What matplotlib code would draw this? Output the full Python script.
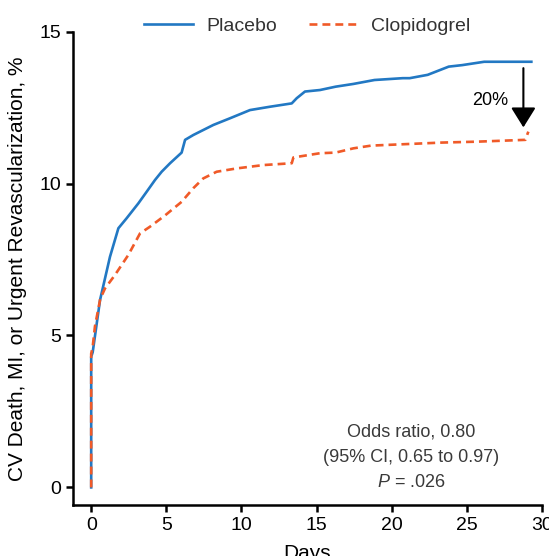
import matplotlib
matplotlib.use("Agg")
from matplotlib import pyplot as plt

plt.rcParams['font.family'] = ['Liberation Sans', 'DejaVu Sans']
plt.rcParams['mathtext.fontset'] = 'custom'
plt.rcParams['mathtext.it'] = 'Liberation Sans:italic'
plt.rcParams['mathtext.rm'] = 'Liberation Sans'

# curves (days, cumulative %)
placebo_days = [0, 0, 0.1, 0.59, 1.25, 1.81, 2.36, 3.14, 3.69, 4.25, 4.69, 5.25,
                6.02, 6.25, 6.8, 8.13, 9.24, 10.57, 11.9, 13.35, 13.68, 14.23,
                15.23, 16.27, 17.45, 18.86, 20.74, 21.2, 22.4, 23.8, 24.7,
                26.16, 29.3]
placebo_vals = [0, 4.3, 4.45, 6.17, 7.59, 8.53, 8.86, 9.35, 9.73, 10.12, 10.39,
                10.67, 11.02, 11.44, 11.6, 11.93, 12.15, 12.42, 12.53, 12.64,
                12.81, 13.03, 13.08, 13.19, 13.28, 13.41, 13.47, 13.47, 13.58,
                13.85, 13.9, 14.01, 14.01]

clop_days = [0, 0, 0.1, 0.25, 0.6, 0.92, 1.58, 2.47, 3.25, 3.91, 4.91, 6.02, 6.8,
             7.46, 8.35, 9.69, 11.46, 13.35, 13.46, 15.23, 16.27, 17.45, 18.63,
             20.98, 23.33, 25.68, 28.9, 29.1]
clop_vals = [0, 4.4, 4.63, 5.3, 6.2, 6.55, 6.99, 7.65, 8.36, 8.58, 8.95, 9.4, 9.85,
             10.17, 10.39, 10.5, 10.61, 10.67, 10.86, 11.0, 11.02, 11.16, 11.25,
             11.3, 11.35, 11.38, 11.44, 11.71]

x_ticks = [0, 5, 10, 15, 20, 25, 30]
y_ticks = [0, 5, 10, 15]

stats_lines = ["Odds ratio, 0.80", "(95% CI, 0.65 to 0.97)", "$P$ = .026"]
reduction_label = "20%"

fig = plt.figure(figsize=(5.49, 5.56), dpi=100)
ax = fig.add_axes([0.133, 0.0917, 0.854, 0.8513])

ax.plot(placebo_days, placebo_vals, color='#2278c3', lw=1.9, label='Placebo')
ax.plot(clop_days, clop_vals, color='#f05a28', lw=1.9, ls=(0, (3, 1.9)),
        label='Clopidogrel')

ax.set_xlim(-1.21, 30)
ax.set_ylim(-0.58, 15)
ax.set_xticks(x_ticks)
ax.set_yticks(y_ticks)
for s in ['top', 'right']:
    ax.spines[s].set_visible(False)
for s in ['left', 'bottom']:
    ax.spines[s].set_linewidth(1.8)
ax.tick_params(width=1.8, length=5, labelsize=14, direction='out')

ax.set_xlabel('Days', fontsize=15, labelpad=7)
ax.set_ylabel('CV Death, MI, or Urgent Revascularization, %', fontsize=15, labelpad=9)

leg = ax.legend(loc='lower center', bbox_to_anchor=(0.5, 0.976), ncol=2,
                frameon=False, fontsize=14, handlelength=2.5, handletextpad=0.7,
                columnspacing=1.65, borderaxespad=0)
for t in leg.get_texts():
    t.set_color('#333333')

# arrow showing the relative reduction
ax.annotate('', xy=(28.77, 11.85), xytext=(28.77, 13.8),
            arrowprops=dict(arrowstyle='-|>,head_length=1.22,head_width=0.76',
                            color='black', lw=1.5, mutation_scale=10,
                            shrinkA=0, shrinkB=0))
ax.text(26.53, 12.75, reduction_label, ha='center', va='center', fontsize=13)

for i, line in enumerate(stats_lines):
    ax.text(21.3, 1.83 - i * 0.84, line, ha='center', va='center',
            fontsize=13, color='#3a3a3a')

plt.savefig('out.png', dpi=100)
